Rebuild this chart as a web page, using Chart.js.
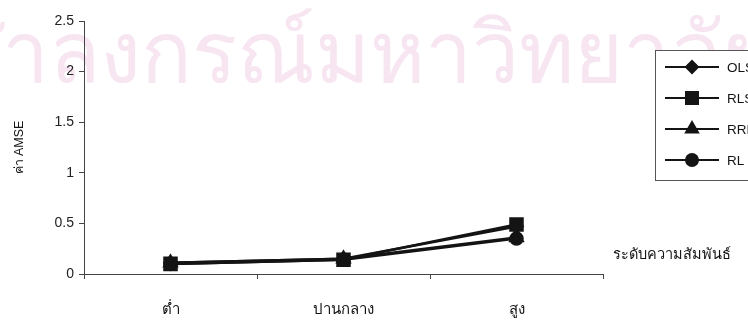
<!DOCTYPE html>
<html>
<head>
  <title>ค่า AMSE ตามระดับความสัมพันธ์</title>
  <script src="https://cdn.jsdelivr.net/npm/chart.js"></script>
  <style>
    html, body {
      margin: 0;
      padding: 0;
      background: #fff;
      overflow: hidden;
    }
    #chart-container {
      width: 800px;
      height: 323px;
      position: relative;
    }
  </style>
</head>
<body>
  <div id="chart-container">
    <canvas id="myChart"></canvas>
  </div>
  <script>
    // ระดับความสัมพันธ์
    const categories = ['ต่ำ', 'ปานกลาง', 'สูง'];
    const seriesNames = ['OLS', 'RLS', 'RRR', 'RL'];
    const olsValues = [0.11, 0.15, 0.47];
    const rlsValues = [0.10, 0.14, 0.49];
    const rrrValues = [0.11, 0.15, 0.36];
    const rlValues = [0.10, 0.14, 0.35];
    const yTicks = [0, 0.5, 1, 1.5, 2, 2.5];

    const yTitle = 'ค่า AMSE';
    const xTitle = 'ระดับความสัมพันธ์';
    const watermark = 'จุฬาลงกรณ์มหาวิทยาลัย';

    const ink = '#141414';
    const fontFamily = 'Arial, "Liberation Sans", sans-serif';

    // ลายน้ำสีชมพูด้านบน
    const watermarkPlugin = {
      id: 'watermark',
      beforeDraw(chart) {
        const ctx = chart.ctx;
        ctx.save();
        ctx.font = '84px ' + fontFamily;
        ctx.fillStyle = '#f7e6f1';
        ctx.textBaseline = 'alphabetic';
        const skip = ctx.measureText('จุฬ').width;
        ctx.fillText(watermark, 2 - skip, 82);
        ctx.restore();
      }
    };

    // ชื่อแกน x อยู่ทางขวาของแกน
    const xTitlePlugin = {
      id: 'xTitle',
      afterDraw(chart) {
        const ctx = chart.ctx;
        const x = chart.scales.x.right + 10;
        const y = chart.scales.y.getPixelForValue(0) - 19;
        ctx.save();
        ctx.font = '14.5px ' + fontFamily;
        ctx.fillStyle = ink;
        ctx.textBaseline = 'middle';
        ctx.fillText(xTitle, x, y);
        ctx.restore();
      }
    };

    // คำอธิบายสัญลักษณ์ในกรอบ
    const legendPlugin = {
      id: 'boxLegend',
      afterDraw(chart) {
        const ctx = chart.ctx;
        const left = 655, top = 50, w = 140, h = 130;
        ctx.save();
        ctx.fillStyle = '#fff';
        ctx.fillRect(left, top, w, h);
        ctx.strokeStyle = '#555';
        ctx.lineWidth = 1;
        ctx.strokeRect(left + 0.5, top + 0.5, w, h);
        ctx.font = '13.5px ' + fontFamily;
        ctx.textBaseline = 'middle';
        chart.data.datasets.forEach((ds, i) => {
          const y = top + 17 + i * 31;
          ctx.strokeStyle = ink;
          ctx.lineWidth = 2;
          ctx.beginPath();
          ctx.moveTo(665, y);
          ctx.lineTo(719, y);
          ctx.stroke();
          ctx.fillStyle = ink;
          Chart.helpers.drawPoint(ctx, {
            pointStyle: ds.pointStyle,
            radius: ds.pointRadius,
            borderWidth: 1
          }, 692, y);
          ctx.fillStyle = ink;
          ctx.fillText(ds.label, 727, y + 1);
        });
        ctx.restore();
      }
    };

    const makeSet = (label, data, pointStyle, radius) => ({
      label,
      data,
      pointStyle,
      pointRadius: radius,
      pointHoverRadius: radius,
      borderColor: ink,
      backgroundColor: ink,
      pointBackgroundColor: ink,
      pointBorderColor: ink,
      borderWidth: 2.5,
      fill: false,
      tension: 0
    });

    const ctx = document.getElementById('myChart').getContext('2d');
    const chart = new Chart(ctx, {
      type: 'line',
      data: {
        labels: categories,
        datasets: [
          makeSet(seriesNames[0], olsValues, 'rectRot', 6),
          makeSet(seriesNames[1], rlsValues, 'rect', 8.5),
          makeSet(seriesNames[2], rrrValues, 'triangle', 7),
          makeSet(seriesNames[3], rlValues, 'circle', 6)
        ]
      },
      options: {
        responsive: true,
        maintainAspectRatio: false,
        animation: false,
        layout: {
          padding: { top: 21, right: 197, left: 0, bottom: 0 }
        },
        plugins: {
          legend: { display: false },
          tooltip: { enabled: false }
        },
        scales: {
          x: {
            offset: true,
            grid: {
              offset: true,
              drawOnChartArea: false,
              drawTicks: true,
              tickLength: 5,
              color: '#444'
            },
            border: { color: '#444', width: 1 },
            ticks: {
              color: ink,
              padding: 22,
              font: { family: fontFamily, size: 15 }
            },
            afterFit(scale) {
              scale.height = 49;
            }
          },
          y: {
            min: 0,
            max: 2.5,
            afterBuildTicks(scale) {
              scale.ticks = yTicks.map(v => ({ value: v }));
            },
            grid: {
              drawOnChartArea: false,
              drawTicks: true,
              tickLength: 5,
              color: '#444'
            },
            border: { color: '#444', width: 1 },
            ticks: {
              color: '#222',
              padding: 5,
              font: { family: fontFamily, size: 14 },
              callback: (v) => String(v)
            },
            title: {
              display: true,
              text: yTitle,
              color: ink,
              padding: { top: 12, bottom: 0 },
              font: { family: fontFamily, size: 12.5 }
            },
            afterFit(scale) {
              scale.width = 84;
            }
          }
        }
      },
      plugins: [watermarkPlugin, xTitlePlugin, legendPlugin]
    });
  </script>
</body>
</html>
